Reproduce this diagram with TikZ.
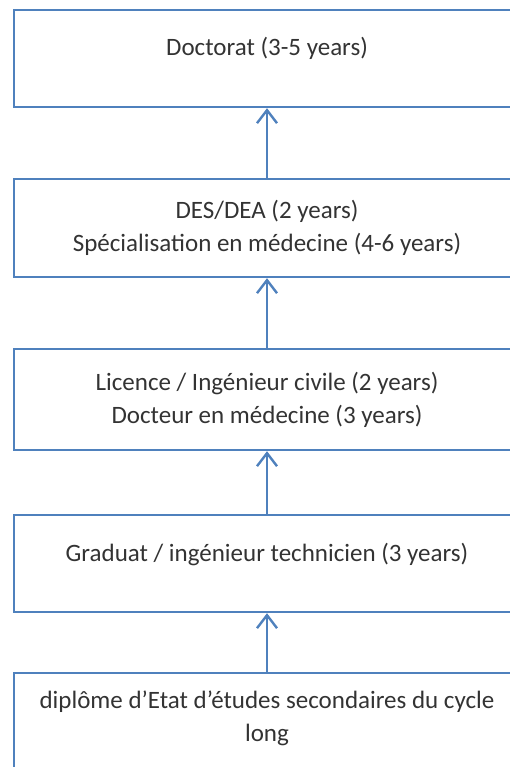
\documentclass[tikz,border=0pt]{standalone}
\usepackage{fontspec}
\setmainfont{Carlito}
\usetikzlibrary{arrows.meta}
\definecolor{boxblue}{RGB}{79,129,189}
\tikzset{
  levelbox/.style={draw=boxblue,line width=2.4pt,rectangle,minimum width=506pt,inner sep=0pt},
  leveltext/.style={align=center,font=\fontsize{25}{33}\selectfont,text=black!80},
  uparrow/.style={-{Straight Barb[length=13pt,width=20pt]},draw=boxblue,line width=2.4pt}
}
\begin{document}
\begin{tikzpicture}[x=1pt,y=-1pt]
    \useasboundingbox (0,0) rectangle (509,767);

    % Doctorat
    \node[levelbox,minimum height=97pt] (doct) at (267,58.5) {};
    \node[leveltext] (docttext) at ([yshift=10pt]doct.center) {Doctorat (3-5 years)};

    % DES / DEA
    \node[levelbox,minimum height=98pt] (dea) at (267,228) {};
    \node[leveltext] (deatext) at (dea.center) {
      DES/DEA (2 years) \\
      Spécialisation en médecine (4-6 years)
    };

    % Licence
    \node[levelbox,minimum height=101pt] (lic) at (267,399.5) {};
    \node[leveltext] (lictext) at (lic.center) {
      Licence / Ingénieur civile (2 years) \\
      Docteur en médecine (3 years)
    };

    % Graduat
    \node[levelbox,minimum height=97pt] (grad) at (267,563.5) {};
    \node[leveltext] (gradtext) at ([yshift=9pt]grad.center) {Graduat / ingénieur technicien (3 years)};

    % Diplome d'Etat
    \node[levelbox,minimum height=97pt] (dipl) at (267,721.5) {};
    \node[leveltext] (dipltext) at ([yshift=3pt]dipl.center) {
      diplôme d’Etat d’études secondaires du cycle \\
      long
    };

    % Arrows between levels
    \draw[uparrow] (dea.north) -- (doct.south);
    \draw[uparrow] (lic.north) -- (dea.south);
    \draw[uparrow] (grad.north) -- (lic.south);
    \draw[uparrow] (dipl.north) -- (grad.south);
  \end{tikzpicture}
\end{document}
